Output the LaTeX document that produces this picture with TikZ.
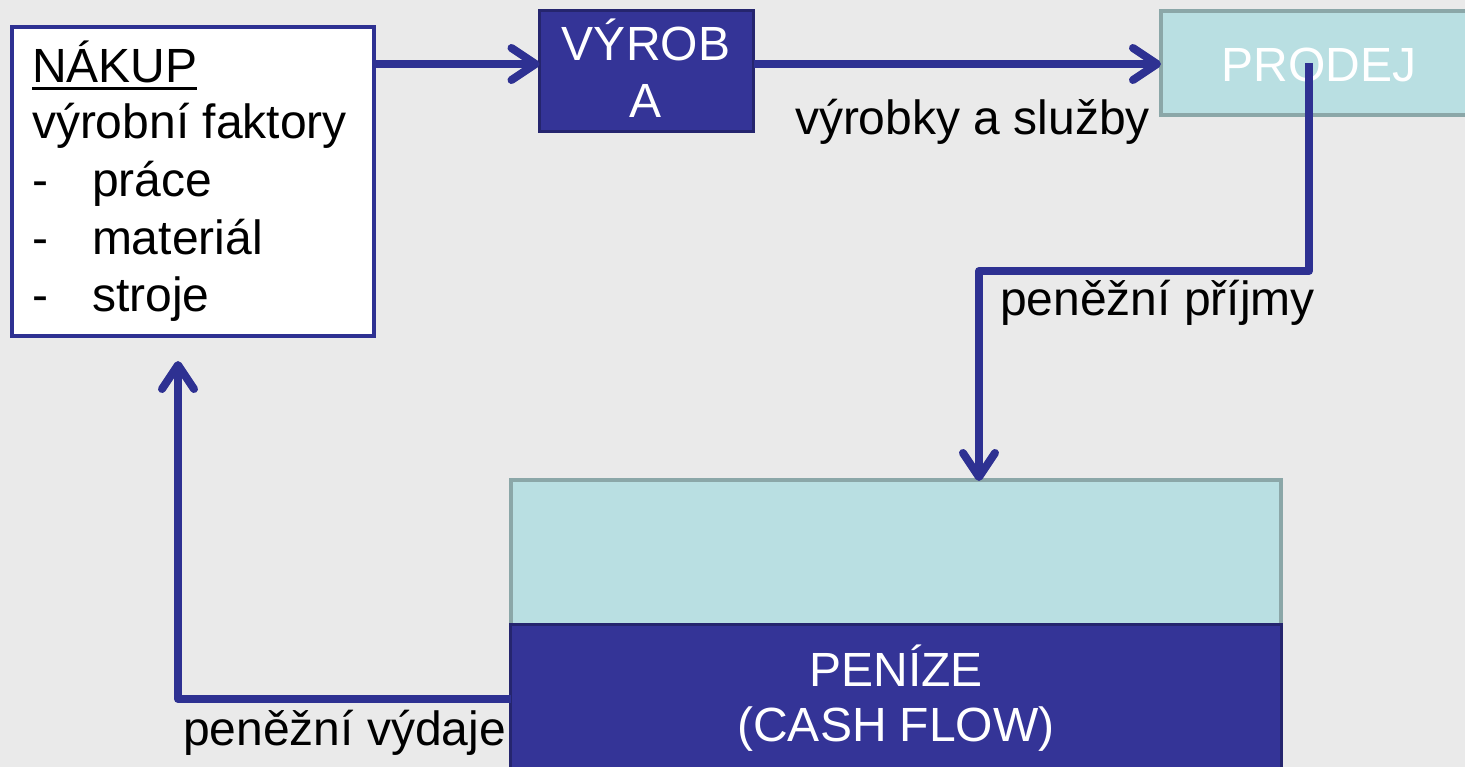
\documentclass[tikz,border=0pt]{standalone}
\usepackage{fontspec}
\setmainfont{Liberation Sans}
\usetikzlibrary{arrows.meta,positioning}

\definecolor{bgcol}{HTML}{EAEAEA}
\definecolor{navy}{HTML}{2E3192}
\definecolor{navyfill}{HTML}{343497}
\definecolor{navyedge}{HTML}{25256E}
\definecolor{aqua}{HTML}{B9DFE2}
\definecolor{aquaedge}{HTML}{8BA7A8}

\tikzset{
  box/.style={rectangle, inner sep=0pt, outer sep=0pt, anchor=north west},
  whitebox/.style={box, fill=white, draw=navy, line width=4pt},
  darkbox/.style={box, fill=navyfill, draw=navyedge, line width=3pt},
  lightbox/.style={box, fill=aqua, draw=aquaedge, line width=4pt},
  txt/.style={inner sep=0pt, outer sep=0pt, font=\fontsize{48}{57}\selectfont},
  wtxt/.style={txt, text=white},
  flow/.style={draw=navy, line width=8pt, line join=round,
    -{Straight Barb[length=24pt, width=32pt, round]}},
}

\begin{document}
\begin{tikzpicture}[x=1pt, y=-1pt]
  \fill[bgcol] (0,0) rectangle (1465,767);
  \useasboundingbox (0,0) rectangle (1465,767);

  % boxes
  \node[whitebox, minimum width=362pt, minimum height=309pt] (nakup) at (11.5,27) {};
  \node[darkbox, minimum width=214pt, minimum height=121pt] (vyroba) at (539.5,10.5) {};
  \node[lightbox, minimum width=330pt, minimum height=104pt] (prodej) at (1161,11) {};
  \node[lightbox, minimum width=770pt, minimum height=150pt] (reserve) at (511,480) {};
  \node[darkbox, minimum width=771pt, minimum height=150pt] (penize) at (510.5,624.5) {};

  % texts
  \node[txt, anchor=base west] (tnakup) at (32,83) {NÁKUP};
  \draw[line width=3pt] ([yshift=-6pt]tnakup.base west) -- ([yshift=-6pt]tnakup.base east);
  \node[txt, anchor=base west] (tfaktory) at (32,139) {výrobní faktory};
  \node[txt, anchor=base west] (d1) at (32,197) {-};
  \node[txt, anchor=base west] (t1) at (92,197) {práce};
  \node[txt, anchor=base west] (d2) at (32,255) {-};
  \node[txt, anchor=base west] (t2) at (92,255) {materiál};
  \node[txt, anchor=base west] (d3) at (32,312) {-};
  \node[txt, anchor=base west] (t3) at (92,312) {stroje};

  \node[wtxt, anchor=base] (tvyrob) at (646,61) {VÝROB};
  \node[wtxt, anchor=base] (tva) at (646,118) {A};
  \node[wtxt, anchor=base] (tprodej) at (1319,82) {PRODEJ};
  \node[wtxt, anchor=base] (tpenize) at (896,686) {PENÍZE};
  \node[wtxt, anchor=base] (tcash) at (896,741) {(CASH FLOW)};

  \node[txt, anchor=base west] (lvyrobky) at (795,135) {výrobky a služby};
  \node[txt, anchor=base west] (lprijmy) at (1000,316) {peněžní příjmy};
  \node[txt, anchor=base west] (lvydaje) at (183,745) {peněžní výdaje};

  % flows
  \coordinate (srcP) at (1309,63);
  \draw[flow] (nakup.east |- 0,64) -- (vyroba.west |- 0,64);
  \draw[flow] (vyroba.east |- 0,64) -- (prodej.west |- 0,64);
  \draw[flow] (srcP) -- (1309,271) -| ([yshift=-1pt]reserve.north -| 979,0);
  \draw[flow] (penize.west |- 0,699) -| (178,361);
\end{tikzpicture}
\end{document}
